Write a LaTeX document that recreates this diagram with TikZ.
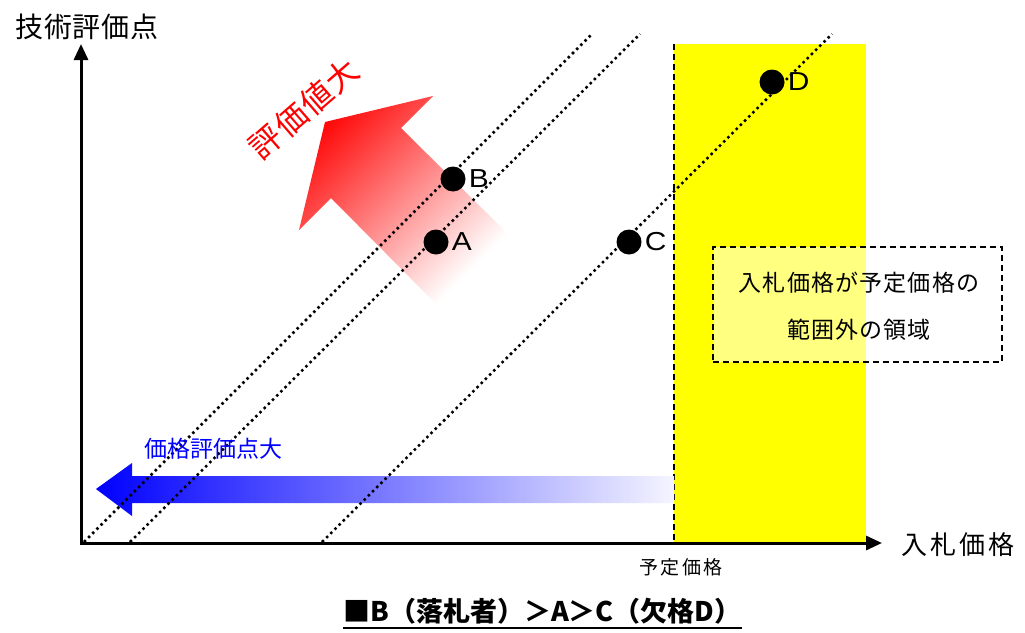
\documentclass[tikz,border=0pt]{standalone}
\usepackage{fontspec}
\setmainfont{Noto Sans CJK JP}
\newfontfamily\jp{Noto Sans CJK JP}
\newfontfamily\lat{Liberation Sans}
\usetikzlibrary{arrows.meta}
\newcommand{\fs}[1]{\fontsize{#1}{#1}\selectfont}
\newcommand{\ls}[1]{\addfontfeatures{LetterSpace=#1}}
\definecolor{yel}{RGB}{255,255,0}
\definecolor{pred}{RGB}{255,0,0}
\definecolor{pblue}{RGB}{0,0,255}
\pgfdeclareverticalshading{redfade}{100bp}{color(0bp)=(white); color(27bp)=(white); color(78bp)=(pred); color(100bp)=(pred)}
\begin{document}
\begin{tikzpicture}[x=1pt,y=-1pt,
  axisline/.style={line width=3pt,-{Triangle[length=16pt,width=14pt]}},
  dotline/.style={line width=2.5pt,dash pattern=on 2.5pt off 3.4pt},
  dashline/.style={line width=1.4pt,dash pattern=on 6pt off 4pt},
  dotpt/.style={circle,fill=black,inner sep=0pt,minimum size=25pt},
  ptlabel/.style={font=\lat\fs{26},inner sep=0pt,anchor=west,xscale=1.15},
  jtext/.style={inner sep=0pt}]
\useasboundingbox (0,0) rectangle (1025,632);
\fill[white] (0,0) rectangle (1025,632);
% yellow region
\fill[yel] (674,44) rectangle (866,543);
\draw[dashline] (674,44) -- (674,543);
% red arrow (evaluation value larger)
\shade[shading=redfade,shading angle=45]
  (325,122) -- (433,96) -- (401,128) -- (509,235) -- (438,306) -- (331,198) -- (299,230) -- cycle;
% blue arrow (price score larger)
\shade[left color=pblue,right color=pblue!4]
  (96,489) -- (132,463) -- (132,476) -- (674,476) -- (674,503) -- (132,503) -- (132,516) -- cycle;
% axes
\coordinate (O) at (81,543);
\coordinate (ytop) at (81,44);
\coordinate (xend) at (882,543);
\draw[axisline] (81,544.5) -- (ytop);
\draw[axisline] (79.5,543) -- (xend);
% iso-evaluation lines
\coordinate (l1s) at (84,542); \coordinate (l1e) at (592,34);
\coordinate (l2s) at (130,542); \coordinate (l2e) at (640,34);
\coordinate (l3s) at (322,542); \coordinate (l3e) at (832,34);
\draw[dotline] (l1s) -- (l1e);
\draw[dotline] (l2s) -- (l2e);
\draw[dotline] (l3s) -- (l3e);
% dashed box
\node[draw=black,dashline,fill=white,fill opacity=0.5,draw opacity=1,minimum width=289pt,minimum height=115pt,inner sep=0pt] (box) at (857.5,304.5) {};
\node[jtext,align=center,font=\jp\fs{23}] (boxtxt) at (859,306.5)
  {\ls{5}入札価格が予定価格の\\[24pt]\ls{5}範囲外の領域};
% points
\node[dotpt] (A) at (436,242) {};
\node[dotpt] (B) at (453,179) {};
\node[dotpt] (C) at (629,242) {};
\node[dotpt] (D) at (772,82) {};
\node[ptlabel] (Al) at ([xshift=3pt]A.east) {A};
\node[ptlabel] (Bl) at ([xshift=3pt]B.east) {B};
\node[ptlabel] (Cl) at ([xshift=3pt]C.east) {C};
\node[ptlabel] (Dl) at ([xshift=3pt]D.east) {D};
% labels
\node[jtext,font=\jp\fs{28}] (ylab) at (87,27) {\ls{3}技術評価点};
\node[jtext,font=\jp\fs{26}] (xlab) at (958,545) {\ls{11}入札価格};
\node[jtext,font=\jp\fs{19}] (yotei) at (681,567) {\ls{14}予定価格};
\node[jtext,font=\jp\fs{23},text=pblue] (bluet) at (213,449) {価格評価点大};
\node[jtext,font=\jp\fs{32},text=pred,rotate=41] (redt) at (304,109) {\ls{5}評価値大};
% caption
\node[jtext,font=\jp\bfseries\fs{27},anchor=base] (cap) at (542.5,621) {■B（落札者）＞A＞C（欠格D）};
\draw[line width=2pt] ([yshift=-7pt]cap.base west) -- ([yshift=-7pt]cap.base east);
\end{tikzpicture}
\end{document}
